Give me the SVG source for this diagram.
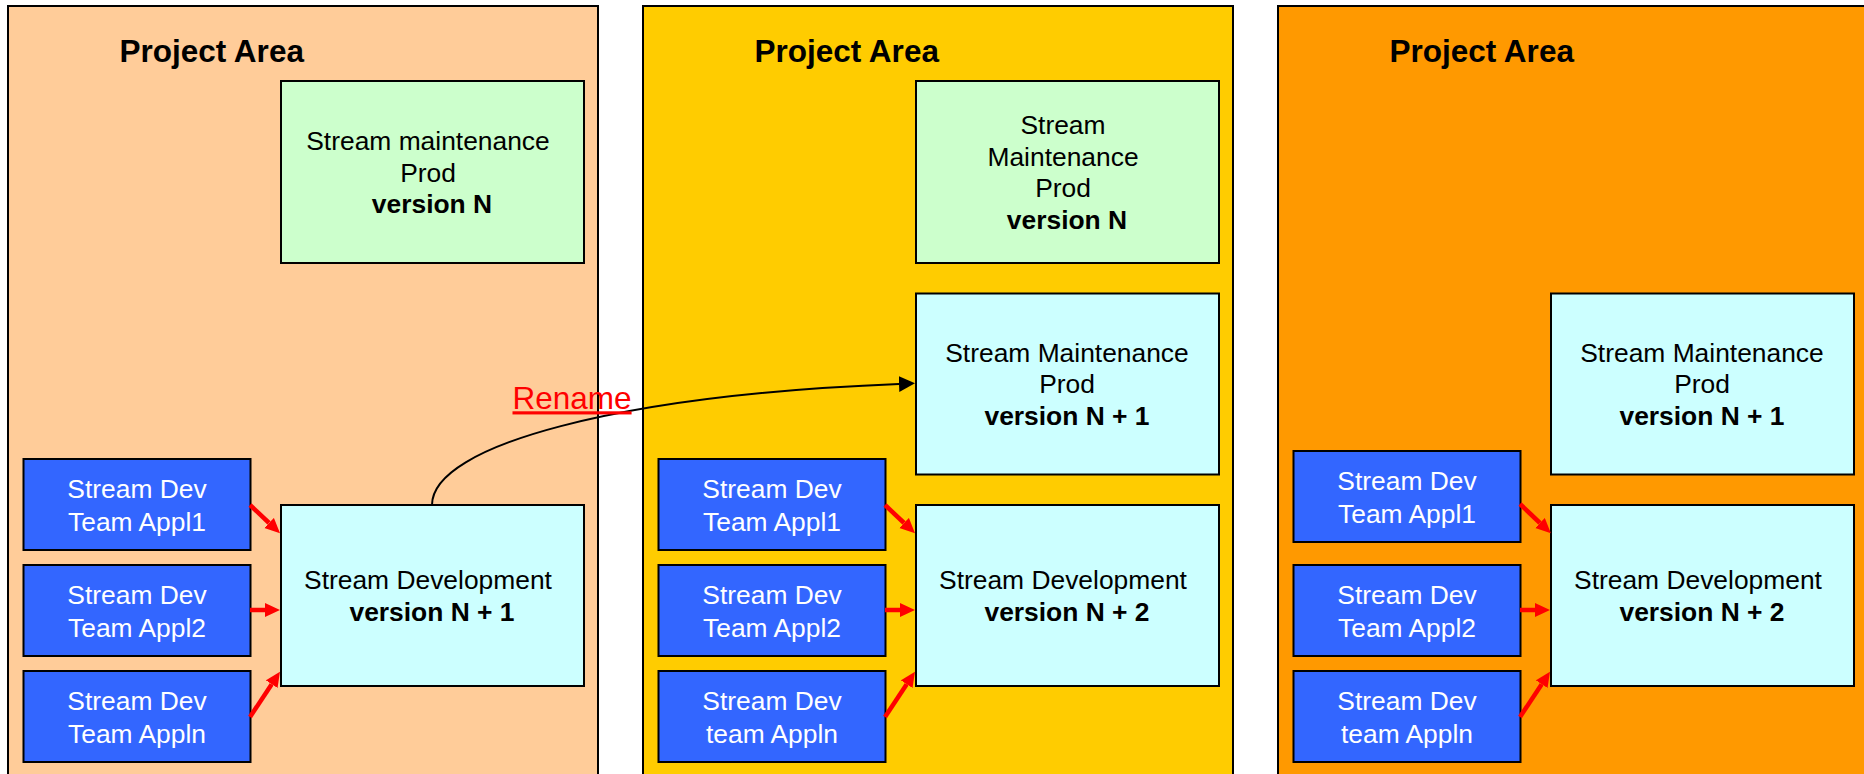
<svg xmlns="http://www.w3.org/2000/svg" width="1864" height="774" viewBox="0 0 1864 774">
<defs>
<style>
.panel{stroke:#000;stroke-width:2}
.box{stroke:#000;stroke-width:2}
.green{fill:#CCFFCC}
.cyan{fill:#CCFFFF}
.blue{fill:#3366FF}
text{font-family:"Liberation Sans",Arial,Helvetica,sans-serif}
.t{font-size:26.4px;text-anchor:middle;fill:#000}
.w{fill:#fff}
.b{font-weight:bold}
.title{font-size:31.5px;font-weight:bold;fill:#000}
.red{stroke:#f00;stroke-width:4.5;fill:none}
.curve{stroke:#000;stroke-width:2;fill:none}
</style>
<marker id="ra" markerUnits="userSpaceOnUse" markerWidth="16" markerHeight="15" refX="0" refY="7" orient="auto">
<path d="M0,0 L15,7 L0,14 z" fill="#f00"/>
</marker>
<marker id="ba" markerUnits="userSpaceOnUse" markerWidth="17" markerHeight="17" refX="0" refY="8" orient="auto">
<path d="M0,0 L16,8 L0,16 z" fill="#000"/>
</marker>
</defs>
<rect x="0" y="0" width="1864" height="774" fill="#fff"/>

<g id="panel1">
<rect class="panel" x="8" y="6" width="590" height="790" fill="#FFCC99"/>
<text class="title" x="119.5" y="61.7">Project Area</text>
</g>
<g id="panel2">
<rect class="panel" x="643" y="6" width="590" height="790" fill="#FFCC00"/>
<text class="title" x="754.5" y="61.7">Project Area</text>
</g>
<g id="panel3">
<rect class="panel" x="1278" y="6" width="600" height="790" fill="#FF9900"/>
<text class="title" x="1389.5" y="61.7">Project Area</text>
</g>

<g id="p1-maint">
<rect class="box green" x="281" y="81" width="303" height="182"/>
<text class="t" x="428" y="150">Stream maintenance</text>
<text class="t" x="428" y="181.7">Prod</text>
<text class="t b" x="432" y="213">version N</text>
</g>
<g id="p1-dev">
<rect class="box cyan" x="281" y="505" width="303" height="181"/>
<text class="t" x="428" y="589.3">Stream Development</text>
<text class="t b" x="432" y="620.7">version N + 1</text>
</g>
<g id="p1-appl1">
<rect class="box blue" x="23.5" y="459" width="227" height="91"/>
<text class="t w" x="137" y="498.3">Stream Dev</text>
<text class="t w" x="137" y="530.7">Team Appl1</text>
</g>
<g id="p1-appl2">
<rect class="box blue" x="23.5" y="565" width="227" height="91"/>
<text class="t w" x="137" y="604.3">Stream Dev</text>
<text class="t w" x="137" y="636.7">Team Appl2</text>
</g>
<g id="p1-appln">
<rect class="box blue" x="23.5" y="671" width="227" height="91"/>
<text class="t w" x="137" y="710.3">Stream Dev</text>
<text class="t w" x="137" y="742.7">Team Appln</text>
</g>

<g id="p2-maint">
<rect class="box green" x="916" y="81" width="303" height="182"/>
<text class="t" x="1063" y="134.3">Stream</text>
<text class="t" x="1063" y="165.7">Maintenance</text>
<text class="t" x="1063" y="197.3">Prod</text>
<text class="t b" x="1067" y="229.3">version N</text>
</g>
<g id="p2-maint1">
<rect class="box cyan" x="916" y="293.5" width="303" height="181"/>
<text class="t" x="1067" y="361.7">Stream Maintenance</text>
<text class="t" x="1067" y="393.3">Prod</text>
<text class="t b" x="1067" y="425">version N + 1</text>
</g>
<g id="p2-dev">
<rect class="box cyan" x="916" y="505" width="303" height="181"/>
<text class="t" x="1063" y="589.3">Stream Development</text>
<text class="t b" x="1067" y="620.7">version N + 2</text>
</g>
<g id="p2-appl1">
<rect class="box blue" x="658.5" y="459" width="227" height="91"/>
<text class="t w" x="772" y="498.3">Stream Dev</text>
<text class="t w" x="772" y="530.7">Team Appl1</text>
</g>
<g id="p2-appl2">
<rect class="box blue" x="658.5" y="565" width="227" height="91"/>
<text class="t w" x="772" y="604.3">Stream Dev</text>
<text class="t w" x="772" y="636.7">Team Appl2</text>
</g>
<g id="p2-appln">
<rect class="box blue" x="658.5" y="671" width="227" height="91"/>
<text class="t w" x="772" y="710.3">Stream Dev</text>
<text class="t w" x="772" y="742.7">team Appln</text>
</g>

<g id="p3-maint1">
<rect class="box cyan" x="1551" y="293.5" width="303" height="181"/>
<text class="t" x="1702" y="361.7">Stream Maintenance</text>
<text class="t" x="1702" y="393.3">Prod</text>
<text class="t b" x="1702" y="425">version N + 1</text>
</g>
<g id="p3-dev">
<rect class="box cyan" x="1551" y="505" width="303" height="181"/>
<text class="t" x="1698" y="589.3">Stream Development</text>
<text class="t b" x="1702" y="620.7">version N + 2</text>
</g>
<g id="p3-appl1">
<rect class="box blue" x="1293.5" y="451" width="227" height="91"/>
<text class="t w" x="1407" y="490.3">Stream Dev</text>
<text class="t w" x="1407" y="522.7">Team Appl1</text>
</g>
<g id="p3-appl2">
<rect class="box blue" x="1293.5" y="565" width="227" height="91"/>
<text class="t w" x="1407" y="604.3">Stream Dev</text>
<text class="t w" x="1407" y="636.7">Team Appl2</text>
</g>
<g id="p3-appln">
<rect class="box blue" x="1293.5" y="671" width="227" height="91"/>
<text class="t w" x="1407" y="710.3">Stream Dev</text>
<text class="t w" x="1407" y="742.7">team Appln</text>
</g>

<g id="connectors">
<line class="red" x1="250" y1="505" x2="269.1" y2="523" marker-end="url(#ra)"/>
<line class="red" x1="250" y1="610" x2="265" y2="610" marker-end="url(#ra)"/>
<line class="red" x1="250" y1="717" x2="271.7" y2="684.2" marker-end="url(#ra)"/>
<line class="red" x1="885" y1="505" x2="904.1" y2="523" marker-end="url(#ra)"/>
<line class="red" x1="885" y1="610" x2="900" y2="610" marker-end="url(#ra)"/>
<line class="red" x1="885" y1="717" x2="906.7" y2="684.2" marker-end="url(#ra)"/>
<line class="red" x1="1520" y1="504" x2="1540" y2="523" marker-end="url(#ra)"/>
<line class="red" x1="1520" y1="610" x2="1535" y2="610" marker-end="url(#ra)"/>
<line class="red" x1="1520" y1="717" x2="1541.7" y2="684.2" marker-end="url(#ra)"/>
<path class="curve" d="M432,505 C432,445 620,395 899,384" marker-end="url(#ba)"/>
<text x="512.5" y="409.3" font-size="31.5" fill="#f00" text-decoration="underline">Rename</text>
</g>
</svg>
